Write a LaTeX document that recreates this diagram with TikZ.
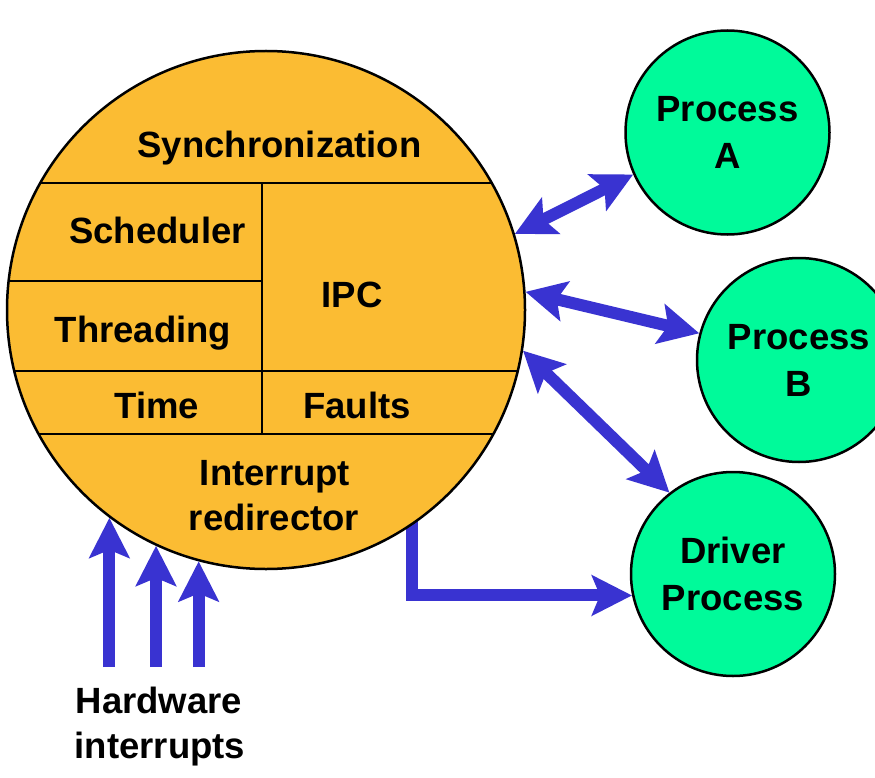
\documentclass[tikz,border=0pt]{standalone}
\usepackage{fontspec}
\setmainfont{Liberation Sans}
\usetikzlibrary{arrows.meta}
\definecolor{coreorange}{RGB}{251,188,51}
\definecolor{procgreen}{RGB}{0,250,154}
\definecolor{arrowblue}{RGB}{57,51,209}
\pgfdeclarelayer{bg}
\pgfsetlayers{bg,main}
\begin{document}
\begin{tikzpicture}[x=1pt,y=-1pt,
  lbl/.style={font=\fontsize{36.5}{47}\selectfont\bfseries, inner sep=0pt, anchor=base},
  proc/.style={circle, draw=black, line width=2.5pt, fill=procgreen, minimum size=204pt,
    inner sep=0pt, align=center, font=\fontsize{36.5}{47}\selectfont\bfseries},
  kernel/.style={circle, draw=black, line width=2.5pt, fill=coreorange, minimum size=518pt, inner sep=0pt},
  divider/.style={draw=black, line width=2.5pt},
  flow/.style={draw=arrowblue, line width=12pt},
  oneway/.style={flow, -{Stealth[length=40pt,width=40pt,inset=8pt]}},
  twoway/.style={flow, {Stealth[length=40pt,width=40pt,inset=8pt]}-{Stealth[length=40pt,width=40pt,inset=8pt]}}
]
\useasboundingbox (0,0) rectangle (875,778);

% microkernel
\node[kernel] (core) at (266,310) {};
\begin{scope}
  \clip (266,310) circle[radius=259];
  \draw[divider] (0,183) -- (540,183);
  \draw[divider] (0,281) -- (262,281);
  \draw[divider] (0,371) -- (540,371);
  \draw[divider] (0,434) -- (540,434);
  \draw[divider] (262,183) -- (262,434);
\end{scope}
\node[lbl] (sync) at (279.5,158) {Synchronization};
\node[lbl] (sched) at (157.5,243) {Scheduler};
\node[lbl] (ipc) at (352,307) {IPC};
\node[lbl] (thr) at (143,342) {Threading};
\node[lbl] (time) at (157,418) {Time};
\node[lbl] (faults) at (357,418) {Faults};
\node[lbl] (intr1) at (275,485) {Interrupt};
\node[lbl] (intr2) at (274,530) {redirector};

% processes
\node[proc] (pa) at (727.5,132.5) {Process\\A};
\node[proc] (pb) at (799,360) {Process\\B};
\node[proc] (drv) at (733,574) {Driver\\Process};

% connectors
\draw[twoway] (core.17) -- (pa.204);
\draw[twoway] (core.4) -- (pb.165);
\draw[twoway] (core.-9) -- (drv.128);
\begin{pgfonlayer}{bg}
  \draw[oneway] ([yshift=12pt]core.-56) |- (drv.192);
\end{pgfonlayer}

% hardware interrupts
\coordinate (h1) at (core.233.7 |- 0,667);
\coordinate (h2) at (core.245.2 |- 0,667);
\coordinate (h3) at (core.255.7 |- 0,667);
\draw[oneway] (h1) -- (core.233.7);
\draw[oneway] (h2) -- (core.245.2);
\draw[oneway] (h3) -- (core.255.7);
\node[lbl] (hw1) at (159,713) {Hardware};
\node[lbl] (hw2) at (160,758) {interrupts};
\end{tikzpicture}
\end{document}
